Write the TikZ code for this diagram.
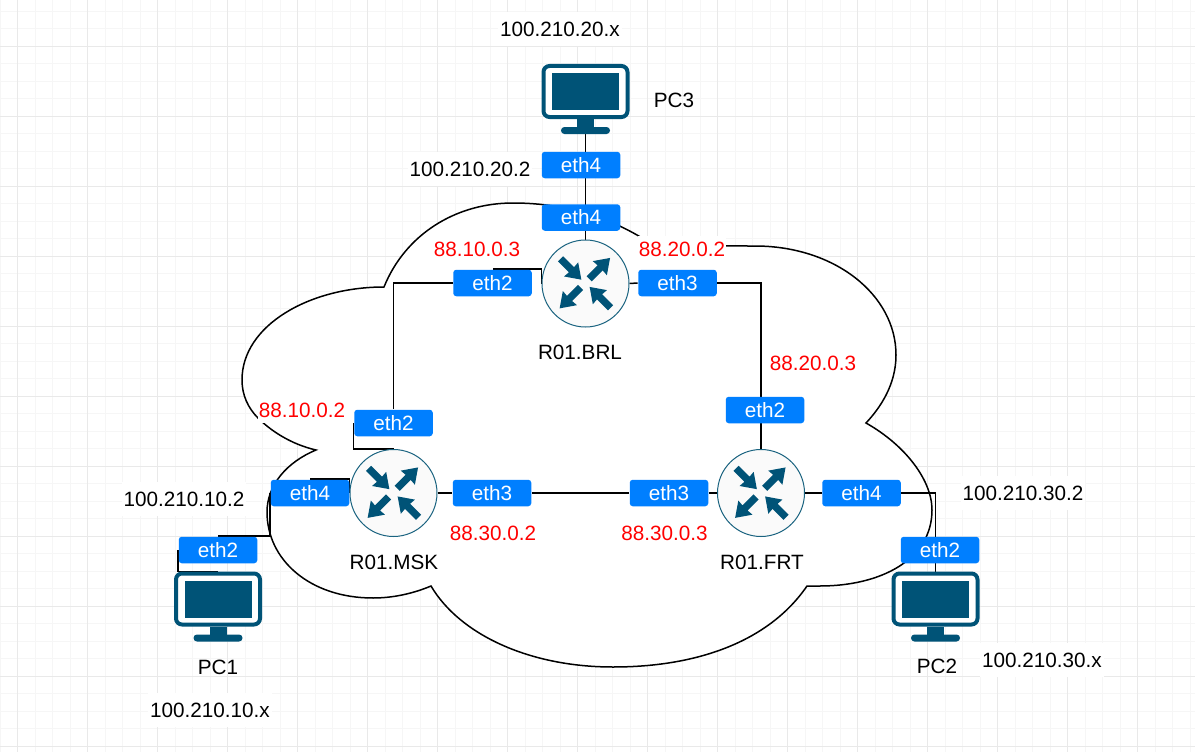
\documentclass[tikz,border=0pt]{standalone}
\usepackage{fontspec}
\setmainfont{Liberation Sans}
\usetikzlibrary{backgrounds}
\definecolor{iconblue}{HTML}{005377}
\definecolor{ethblue}{HTML}{007FFF}
\definecolor{gridmajor}{HTML}{E9E9E9}
\definecolor{gridminor}{HTML}{F6F6F6}
\definecolor{routerline}{HTML}{1A6380}
\definecolor{routerfill}{HTML}{FAFAFA}
\tikzset{
  txt/.style={font=\fontsize{20.7}{24}\selectfont, inner sep=0pt, text=black},
  ethbox/.style={fill=ethblue, rounded corners=3pt, minimum width=78.5pt, minimum height=26.5pt,
    inner sep=0pt, outer sep=0.7pt, text=white, font=\fontsize{20.7}{24}\selectfont},
  addr/.style={txt, text=red, fill=white, minimum height=26pt, inner xsep=0.5pt},
  host/.style={txt, fill=white, minimum height=34pt, inner xsep=2pt},
  routernode/.style={circle, draw=routerline, fill=routerfill, line width=1pt, minimum size=87pt, inner sep=0pt},
  monitor/.style={rectangle, draw=iconblue, fill=white, line width=4pt, rounded corners=6pt,
    minimum width=84pt, minimum height=51pt, inner sep=0pt, outer sep=2pt},
  link/.style={draw=black, line width=1.5pt},
  cloudline/.style={draw=black, fill=white, line width=1.5pt},
  routerarrow/.pic={
    \fill[iconblue] (0,-3.6) -- (15.5,-3.6) -- (15,-10) -- (29.5,0) -- (15,10) -- (15.5,3.6) -- (0,3.6) -- cycle;
  },
  routericon/.pic={
    \pic[shift={(3.7,-4.7)},rotate=45] {routerarrow};
    \pic[shift={(-5,4)},rotate=225] {routerarrow};
    \pic[shift={(-25,-24.7)},rotate=-45] {routerarrow};
    \pic[shift={(25,24.3)},rotate=135] {routerarrow};
  },
  pcicon/.pic={
    \fill[iconblue] (-33.5,-18.5) rectangle (33.5,18.5);
    \fill[iconblue] (-8.5,27.5) rectangle (8.5,38);
    \fill[iconblue, rounded corners=3.4pt] (-24.5,35.5) rectangle (24.5,42.5);
  }
}
\begin{document}
\begin{tikzpicture}[x=1pt,y=-1pt]
\useasboundingbox (0,0) rectangle (1195,752);

% routers
\node[routernode] (brl) at (585.5,283.5) {};
\node[routernode] (msk) at (393.5,493) {};
\node[routernode] (frt) at (761,493) {};
\pic at (brl.center) {routericon};
\pic at (msk.center) {routericon};
\pic at (frt.center) {routericon};

% computers
\node[monitor] (pc3) at (585.5,91.5) {};
\node[monitor] (pc1) at (218,599) {};
\node[monitor] (pc2) at (935.5,599) {};
\pic at (pc3.center) {pcicon};
\pic at (pc1.center) {pcicon};
\pic at (pc2.center) {pcicon};

% interface labels
\node[ethbox] (ePc3) at (581,165) {eth4};
\node[ethbox] (eBt) at (581,217.5) {eth4};
\node[ethbox] (eBl) at (492.5,283) {eth2};
\node[ethbox] (eBr) at (677.5,283) {eth3};
\node[ethbox] (eFt) at (765,410) {eth2};
\node[ethbox] (eMt) at (393.5,423) {eth2};
\node[ethbox] (eMl) at (310,493) {eth4};
\node[ethbox] (eMr) at (492,493) {eth3};
\node[ethbox] (eFl) at (669,493) {eth3};
\node[ethbox] (eFr) at (861.5,493) {eth4};
\node[ethbox] (ePc2) at (940,550) {eth2};
\node[ethbox] (ePc1) at (218,550) {eth2};

% address labels
\node[addr] (a1) at (477,249) {88.10.0.3};
\node[addr] (a2) at (682,249) {88.20.0.2};
\node[addr] (a3) at (813,363) {88.20.0.3};
\node[addr] (a4) at (302,410) {88.10.0.2};
\node[addr] (a5) at (493,533) {88.30.0.2};
\node[addr] (a6) at (664.5,533) {88.30.0.3};
\node[host] (h1) at (560,29) {100.210.20.x};
\node[host] (h2) at (470,169) {100.210.20.2};
\node[host] (h3) at (184,499) {100.210.10.2};
\node[host] (h4) at (1023,493) {100.210.30.2};
\node[host] (h5) at (1042,660) {100.210.30.x};
\node[host] (h6) at (210,710) {100.210.10.x};

% names
\node[txt] (n1) at (580,352) {R01.BRL};
\node[txt] (n2) at (394,562) {R01.MSK};
\node[txt] (n3) at (762,562) {R01.FRT};
\node[txt] (n4) at (674,100) {PC3};
\node[txt] (n5) at (218,667) {PC1};
\node[txt] (n6) at (937,666) {PC2};

\begin{scope}[on background layer]
  % page and grid
  \fill[white] (0,0) rectangle (1195,752);
  \foreach \i in {0,...,68} \draw[gridminor, line width=1pt] ({17.5*\i},0) -- ({17.5*\i},752);
  \foreach \i in {0,...,43} \draw[gridminor, line width=1pt] (0,{11.3+17.5*\i}) -- (1195,{11.3+17.5*\i});
  \foreach \i in {0,...,17} \draw[gridmajor, line width=1pt] ({17.5+70*\i},0) -- ({17.5+70*\i},752);
  \foreach \i in {0,...,10} \draw[gridmajor, line width=1pt] (0,{46.3+70*\i}) -- (1195,{46.3+70*\i});

  % cloud
  \path[cloudline] (384,287)
    .. controls (405,235) and (455,203) .. (513,203)
    .. controls (570,203) and (615,220) .. (650,243)
    .. controls (680,246) and (720,246) .. (755,246)
    .. controls (835,246) and (896,295) .. (896,355)
    .. controls (896,385) and (880,408) .. (866,423)
    .. controls (905,445) and (932,480) .. (932,510)
    .. controls (932,560) and (880,586) .. (820,586)
    -- (807,586)
    .. controls (770,640) and (700,667) .. (613,667)
    .. controls (530,667) and (460,635) .. (431,586)
    .. controls (412,594) and (392,598) .. (373,598)
    .. controls (310,598) and (267,560) .. (267,512)
    .. controls (267,485) and (287,462) .. (316,450)
    .. controls (290,444) and (270,430) .. (258,418)
    .. controls (248,408) and (242,395) .. (242,380)
    .. controls (242,325) and (310,287) .. (384,287)
    -- cycle;

  % connectors
  \draw[link] (pc3.south) -- (brl.north);
  \draw[link] (brl.west) |- (eBl.north);
  \draw[link] (eBl.west) -| (eMt.north);
  \draw[link] (eMt.west) |- (msk.north);
  \draw[link] (msk.west) |- (eMl.north);
  \draw[link] (eMl.west) |- (ePc1.north);
  \draw[link] (ePc1.west) |- (pc1.north);
  \draw[link] (brl.east) -- (eBr.west);
  \draw[link] (eBr.east) -| (frt.north);
  \draw[link] (msk.east) -- (eMr.west);
  \draw[link] (eMr.east) -- (eFl.west);
  \draw[link] (eFl.east) -- (frt.west);
  \draw[link] (frt.east) -- (eFr.west);
  \draw[link] (eFr.east) -| (pc2.north);
\end{scope}
\end{tikzpicture}
\end{document}
